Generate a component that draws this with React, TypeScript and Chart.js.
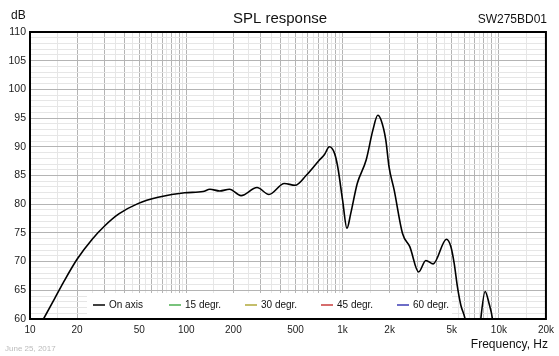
import React, { useEffect, useRef } from "react";
import { Chart, registerables } from "chart.js";

Chart.register(...registerables);

const freqHz = [10, 12.2, 14.4, 16.3, 20, 25, 30, 37, 49, 66, 97.7, 128, 141.6, 163.6, 189, 224, 283.5, 338, 424, 497, 584, 711, 764, 823, 887, 931, 1000, 1066, 1128, 1241, 1415, 1562, 1679, 1760, 1889, 1982, 2137, 2418, 2691, 3063, 3410, 3800, 4620, 4930, 5176, 5430, 5710, 6080, 6500, 7000, 7400, 7660, 8166, 8650, 9100, 9600, 10000];
const onAxisDb = [55.7, 60, 63.6, 66.3, 70.4, 73.9, 76.2, 78.3, 80.1, 81.2, 82.0, 82.2, 82.6, 82.3, 82.6, 81.5, 82.9, 81.7, 83.6, 83.3, 85.0, 87.7, 88.6, 90.0, 88.9, 86.5, 80.7, 75.8, 78.4, 83.6, 87.7, 92.9, 95.5, 94.7, 91.2, 86.5, 82.5, 74.9, 72.6, 68.2, 70.2, 69.6, 73.9, 72.6, 69.7, 65.6, 62.4, 60, 55, 52, 55, 60, 64.8, 62.7, 60, 54, 50];
const deg15Db: number[] = [];
const deg30Db: number[] = [];
const deg45Db: number[] = [];
const deg60Db: number[] = [];

const seriesLabels = ["On axis", "15 degr.", "30 degr.", "45 degr.", "60 degr."];
const seriesColors = ["#000000", "#4caf50", "#b0a83a", "#c83c3c", "#3c3cb4"];

const xLabelTicks = [10, 20, 50, 100, 200, 500, 1000, 2000, 5000, 10000, 20000];
const xGridMultipliers = [1, 1.5, 2, 2.5, 3, 3.5, 4, 4.5, 5, 5.5, 6, 6.5, 7, 7.5, 8, 8.5, 9, 9.5];
const xDecades = [10, 100, 1000, 10000];

const FONT = "'Liberation Sans', Arial, sans-serif";

function fmtFreq(v: number): string {
  if (v >= 1000) return v / 1000 + "k";
  return String(v);
}

function isMajorX(v: number): boolean {
  const e = Math.pow(10, Math.floor(Math.log10(v) + 1e-9));
  const m = v / e;
  return Math.abs(m - Math.round(m)) < 1e-6;
}

const decorPlugin = {
  id: "decor",
  afterDatasetsDraw(chart: any) {
    const { ctx, chartArea } = chart;
    const { left, top, right, bottom } = chartArea;
    ctx.save();
    ctx.fillStyle = "#ffffff";
    ctx.fillRect(87, 293, 365, bottom - 293);
    ctx.font = "10px " + FONT;
    ctx.textBaseline = "middle";
    ctx.textAlign = "left";
    chart.data.datasets.forEach((ds: any, i: number) => {
      const x0 = 93 + i * 76;
      const y0 = 305;
      ctx.strokeStyle = ds.borderColor;
      ctx.lineWidth = 1.5;
      ctx.beginPath();
      ctx.moveTo(x0, y0);
      ctx.lineTo(x0 + 12, y0);
      ctx.stroke();
      ctx.fillStyle = "#111";
      ctx.fillText(ds.label, x0 + 16, y0 + 0.5);
    });
    ctx.strokeStyle = "#000";
    ctx.lineWidth = 2;
    ctx.strokeRect(left, top, right - left, bottom - top);
    ctx.fillStyle = "#111";
    ctx.textBaseline = "alphabetic";
    ctx.font = "15px " + FONT;
    ctx.textAlign = "center";
    ctx.fillText("SPL response", 280, 23);
    ctx.font = "12px " + FONT;
    ctx.textAlign = "left";
    ctx.fillText("dB", 11, 19);
    ctx.textAlign = "right";
    ctx.fillText("SW275BD01", 547, 23);
    ctx.fillText("Frequency, Hz", 548, 348);
    ctx.font = "8px " + FONT;
    ctx.textAlign = "left";
    ctx.fillStyle = "#bbbbbb";
    ctx.fillText("June 25, 2017", 5, 351);
    ctx.restore();
  },
};

export default function App() {
  const ref = useRef<HTMLCanvasElement>(null);
  useEffect(() => {
    if (!ref.current) return;
    const seriesData = [onAxisDb, deg15Db, deg30Db, deg45Db, deg60Db];
    const datasets = seriesData.map((arr, i) => ({
      label: seriesLabels[i],
      data: arr.map((y, j) => ({ x: freqHz[j], y })),
      borderColor: seriesColors[i],
      backgroundColor: seriesColors[i],
      borderWidth: 1.6,
      pointRadius: 0,
      fill: false,
      cubicInterpolationMode: "monotone" as const,
    }));
    const chart = new Chart(ref.current, {
      type: "line",
      data: { datasets },
      plugins: [decorPlugin],
      options: {
        animation: false,
        responsive: false,
        parsing: false as any,
        layout: { padding: { top: 32, right: 12, left: 0, bottom: 0 } },
        plugins: { legend: { display: false }, tooltip: { enabled: false }, title: { display: false } },
        scales: {
          x: {
            type: "logarithmic",
            min: 10,
            max: 20000,
            afterFit: (s: any) => { s.height = 37; },
            afterBuildTicks: (s: any) => {
              const vals: number[] = [];
              xDecades.forEach((d) => xGridMultipliers.forEach((m) => { const v = m * d; if (v <= 20000) vals.push(v); }));
              s.ticks = vals.map((v) => ({ value: v }));
            },
            border: { display: false },
            grid: {
              drawTicks: false,
              lineWidth: 1,
              color: (c: any) => (c.tick && isMajorX(c.tick.value) ? "#b4b4b4" : "#e6e6e6"),
            },
            ticks: {
              autoSkip: false,
              maxRotation: 0,
              padding: 5,
              color: "#222",
              font: { family: FONT, size: 10 },
              callback: (v: any) => (xLabelTicks.includes(Number(v)) ? fmtFreq(Number(v)) : ""),
            },
          },
          y: {
            type: "linear",
            min: 60,
            max: 110,
            afterFit: (s: any) => { s.width = 30; },
            border: { display: false },
            grid: {
              drawTicks: false,
              lineWidth: 1,
              color: (c: any) => (c.tick && c.tick.value % 5 === 0 ? "#b4b4b4" : "#e6e6e6"),
            },
            ticks: {
              stepSize: 1,
              autoSkip: false,
              padding: 4,
              color: "#222",
              font: { family: FONT, size: 10.5 },
              callback: (v: any) => (Number(v) % 5 === 0 ? String(v) : ""),
            },
          },
        },
      },
    });
    return () => chart.destroy();
  }, []);
  return (
    <div style={{ position: "fixed", left: 0, top: 0, width: 559, height: 356, background: "#fff" }}>
      <canvas ref={ref} width={559} height={356} />
    </div>
  );
}
